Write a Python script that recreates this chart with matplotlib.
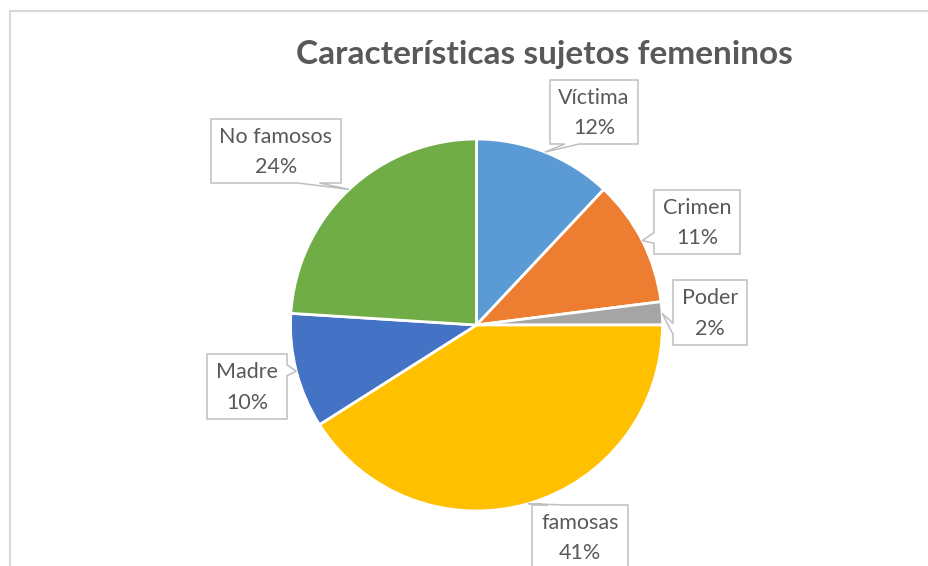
import matplotlib
matplotlib.use("Agg")
import matplotlib.pyplot as plt
from matplotlib.patches import Polygon
from matplotlib.lines import Line2D
import numpy as np

W, H = 929, 566

# datos del gráfico
categorias = ["Víctima", "Crimen", "Poder", "famosas", "Madre", "No famosos"]
valores = [12, 11, 2, 41, 10, 24]
colores = ["#5B9BD5", "#ED7D31", "#A5A5A5", "#FFC000", "#4472C4", "#70AD47"]
titulo = "Características sujetos femeninos"

# cajas de etiquetas en píxeles de imagen: (x0, y0, x1, y1)
cajas = [
    (550, 80, 638, 144),
    (654, 190, 740, 254),
    (673, 280, 747, 345),
    (532, 505, 628, 569),
    (207, 354, 287, 419),
    (211, 119, 341, 183),
]

plt.rcParams["font.family"] = ["Lato", "DejaVu Sans"]

fig = plt.figure(figsize=(W / 100, H / 100), dpi=100)
ax = fig.add_axes([0, 0, 1, 1])

centro = (476.5, H - 325)
radio = 186
wedges, _ = ax.pie(valores, colors=colores, startangle=90, counterclock=False,
                   center=centro, radius=radio, frame=True,
                   wedgeprops=dict(edgecolor="white", linewidth=2))
ax.set_xlim(0, W)
ax.set_ylim(0, H)
ax.set_aspect("equal")
ax.axis("off")

total = sum(valores)


def callout(caja, punta):
    x0, y1i, x1, y0i = caja
    y0, y1 = H - y0i, H - y1i
    w, h = x1 - x0, y1 - y0
    cx, cy = (x0 + x1) / 2, (y0 + y1) / 2
    tx, ty = punta
    if ty < y0 or ty > y1:
        if tx < cx:
            b1, b2 = x0 + w * 2 / 12, x0 + w * 4 / 12
        else:
            b1, b2 = x0 + w * 8 / 12, x0 + w * 10 / 12
        if ty < y0:
            pts = [(x0, y0), (b1, y0), (tx, ty), (b2, y0), (x1, y0), (x1, y1), (x0, y1)]
        else:
            pts = [(x0, y0), (x1, y0), (x1, y1), (b2, y1), (tx, ty), (b1, y1), (x0, y1)]
    else:
        if ty > cy:
            b1, b2 = y1 - h * 4 / 12, y1 - h * 2 / 12
        else:
            b1, b2 = y0 + h * 2 / 12, y0 + h * 4 / 12
        if tx < cx:
            pts = [(x0, y0), (x1, y0), (x1, y1), (x0, y1), (x0, b2), (tx, ty), (x0, b1)]
        else:
            pts = [(x0, y0), (x1, y0), (x1, b1), (tx, ty), (x1, b2), (x1, y1), (x0, y1)]
    ax.add_patch(Polygon(pts, closed=True, facecolor="white", edgecolor="#BFBFBF",
                         linewidth=1.1, zorder=5))
    return cx, cy


for wd, cat, val, caja in zip(wedges, categorias, valores, cajas):
    ang = np.deg2rad((wd.theta1 + wd.theta2) / 2)
    punta = (centro[0] + radio * np.cos(ang), centro[1] + radio * np.sin(ang))
    cx, cy = callout(caja, punta)
    pct = round(100 * val / total)
    ax.text(cx, cy - 1, f"{cat}\n{pct}%", ha="center", va="center", fontsize=15.5,
            color="#595959", linespacing=1.65, zorder=6)

fig.text(544.5 / W, 1 - 64 / H, titulo, ha="center", va="baseline", fontsize=24,
         fontweight="bold", color="#595959")

# borde del área del gráfico
fig.add_artist(Line2D([10 / W, 10 / W], [0, 1 - 11 / H], transform=fig.transFigure,
                      color="#D9D9D9", linewidth=1.5))
fig.add_artist(Line2D([10 / W, 1], [1 - 11 / H, 1 - 11 / H], transform=fig.transFigure,
                      color="#D9D9D9", linewidth=1.5))

fig.savefig("out.png", dpi=100)
